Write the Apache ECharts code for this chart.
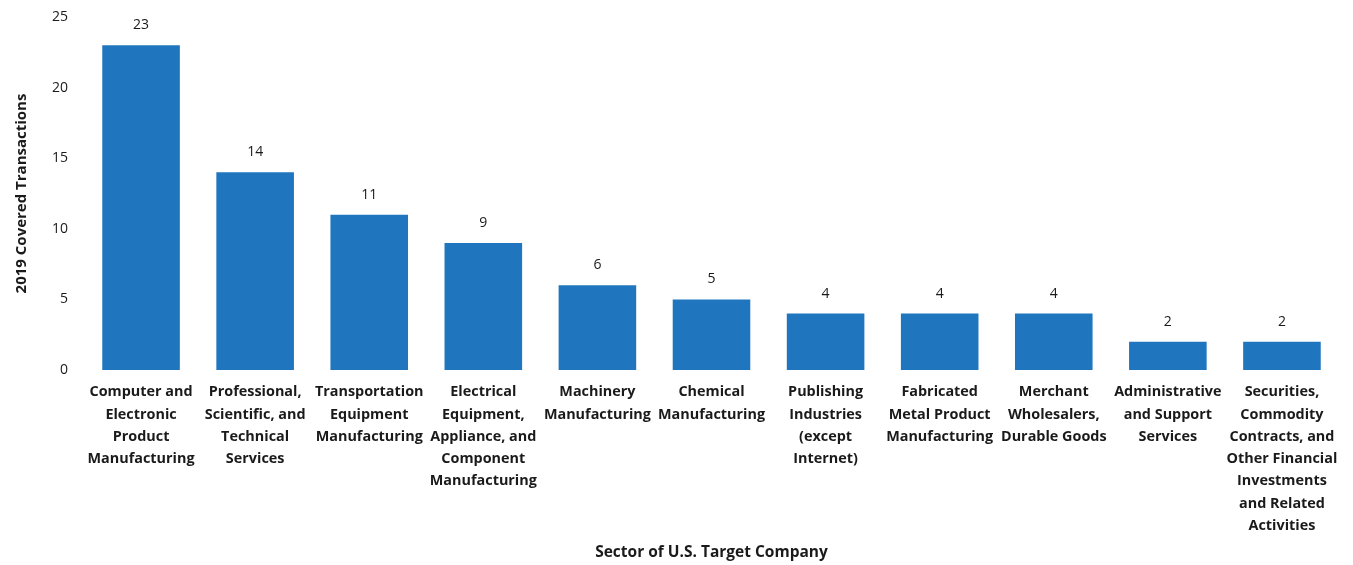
<!DOCTYPE html>
<html><head><meta charset="utf-8">
<script src="https://cdn.jsdelivr.net/npm/echarts@6/dist/echarts.min.js"></script>
<style>html,body{margin:0;padding:0;background:#fff}#c{width:1353px;height:565px}</style>
</head><body><div id="c"></div>
<script>
const categories = [
  "Computer and\nElectronic\nProduct\nManufacturing",
  "Professional,\nScientific, and\nTechnical\nServices",
  "Transportation\nEquipment\nManufacturing",
  "Electrical\nEquipment,\nAppliance, and\nComponent\nManufacturing",
  "Machinery\nManufacturing",
  "Chemical\nManufacturing",
  "Publishing\nIndustries\n(except\nInternet)",
  "Fabricated\nMetal Product\nManufacturing",
  "Merchant\nWholesalers,\nDurable Goods",
  "Administrative\nand Support\nServices",
  "Securities,\nCommodity\nContracts, and\nOther Financial\nInvestments\nand Related\nActivities"
];
const values = [23, 14, 11, 9, 6, 5, 4, 4, 4, 2, 2];
const yTicks = [0, 5, 10, 15, 20, 25];

const chart = echarts.init(document.getElementById('c'), null, {renderer: 'canvas'});
const FONT = 'Open Sans';
chart.setOption({
  animation: false,
  backgroundColor: '#ffffff',
  grid: {left: 84, right: 14, top: 17, bottom: 195, containLabel: false, outerBoundsMode: 'none'},
  xAxis: {
    type: 'category',
    data: categories,
    name: 'Sector of U.S. Target Company',
    nameLocation: 'middle',
    nameGap: 175,
    nameTextStyle: {fontFamily: FONT, fontWeight: 'bold', fontSize: 15.5, color: '#1a1a1a'},
    axisLine: {show: false},
    axisTick: {show: false},
    axisLabel: {interval: 0, margin: 11, fontFamily: FONT, fontWeight: 'bold', fontSize: 14.4, color: '#1a1a1a', lineHeight: 22.3, verticalAlign: 'top'}
  },
  yAxis: {
    type: 'value',
    min: yTicks[0], max: yTicks[yTicks.length - 1], interval: 5,
    name: '2019 Covered Transactions',
    nameLocation: 'middle',
    nameGap: 55,
    nameTextStyle: {fontFamily: FONT, fontWeight: 'bold', fontSize: 15, color: '#1a1a1a'},
    axisLine: {show: false},
    axisTick: {show: false},
    splitLine: {show: false},
    axisLabel: {margin: 16, fontFamily: FONT, fontSize: 14, color: '#1a1a1a'}
  },
  series: [{
    type: 'bar',
    data: values,
    barCategoryGap: '32%',
    itemStyle: {color: '#1f76bf'},
    label: {show: true, position: 'top', distance: 13, fontFamily: FONT, fontSize: 14, color: '#1a1a1a'}
  }]
});
</script></body></html>
